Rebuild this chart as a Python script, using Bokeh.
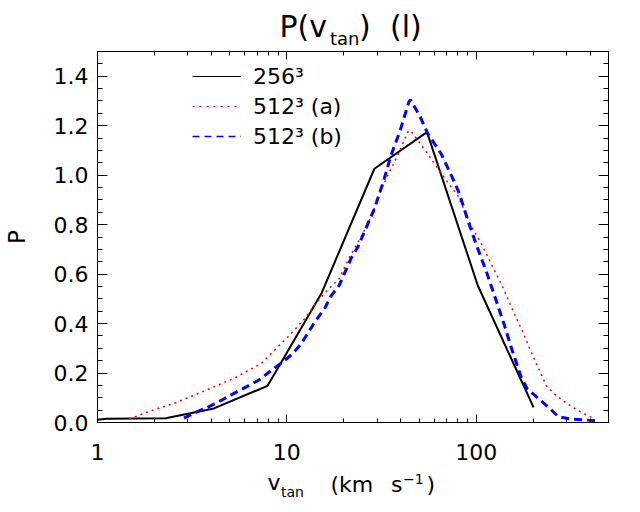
import math
from bokeh.plotting import figure
from bokeh.layouts import column
from bokeh.models import (Range1d, LogAxis, LinearAxis, LogTicker, SingleIntervalTicker,
                          PrintfTickFormatter, CustomJSTickFormatter, Legend, LegendItem)
from bokeh.core.properties import value
from bokeh.embed import file_html
from bokeh.resources import INLINE

# ---------------- data ----------------
v_256 = [1.0, 1.12, 2.29, 4.12, 7.9, 15.3, 29.0, 55.0, 102.0, 201.0]
p_256 = [0.011, 0.015, 0.017, 0.057, 0.148, 0.525, 1.026, 1.174, 0.554, 0.061]

v_512a = [1.47, 1.92, 2.53, 3.31, 4.3, 5.26, 7.28, 8.92, 9.9, 11.1, 12.6, 13.9, 16.0, 18.9,
          21.1, 24.6, 27.8, 31.4, 34.8, 38.5, 43.5, 45.0, 52.2, 60.2, 73.7, 80.0, 93.3,
          107.6, 122.5, 138.4, 156.2, 176.5, 195.4, 216.2, 234.6, 259.5, 287.6, 325.0,
          359.5, 405.8]
p_512a = [0.014, 0.048, 0.077, 0.113, 0.150, 0.179, 0.237, 0.304, 0.338, 0.378, 0.425,
          0.472, 0.527, 0.581, 0.659, 0.749, 0.830, 0.939, 1.013, 1.080, 1.174, 1.181,
          1.114, 1.047, 0.952, 0.918, 0.801, 0.716, 0.628, 0.547, 0.453, 0.365, 0.284,
          0.210, 0.149, 0.115, 0.088, 0.061, 0.041, 0.021]

v_512b = [2.86, 3.37, 3.88, 4.57, 5.26, 6.14, 7.13, 8.16, 9.29, 10.7, 11.9, 13.0, 14.2,
          15.8, 17.1, 18.9, 21.8, 23.7, 29.0, 32.5, 35.5, 39.8, 44.1, 45.0, 50.7, 55.5,
          65.3, 75.3, 81.6, 90.4, 100.0, 113.0, 126.1, 140.2, 155.0, 173.0, 186.2, 212.0,
          241.5, 272.5, 318.0, 378.0, 436.5]
p_512b = [0.018, 0.044, 0.064, 0.092, 0.118, 0.145, 0.172, 0.207, 0.239, 0.277, 0.318,
          0.365, 0.412, 0.459, 0.511, 0.554, 0.662, 0.709, 0.864, 0.979, 1.080, 1.184,
          1.296, 1.305, 1.235, 1.168, 1.087, 0.986, 0.925, 0.817, 0.720, 0.612, 0.504,
          0.399, 0.291, 0.183, 0.136, 0.099, 0.061, 0.023, 0.014, 0.010, 0.007]

legend_labels = ["256³", "512³ (a)", "512³ (b)"]
title_parts = ["P(v", "tan", ")", "(l)"]
xlabel_parts = ["v", "tan", "(km", "s", "−1", ")"]
ylabel = "P"

FONT = "DejaVu Sans"
W = 624
FL, FR = 97, 608          # frame left / right on the page
TOP_H = 48
BOT_H = 36


def strip(h):
    f = figure(width=W, height=h, x_range=Range1d(FL, FR), y_range=Range1d(h, 0),
               output_backend="svg", toolbar_location=None,
               x_axis_location=None, y_axis_location=None,
               min_border_left=FL, min_border_right=W - FR,
               min_border_top=0, min_border_bottom=0)
    f.outline_line_color = None
    f.xgrid.visible = False
    f.ygrid.visible = False
    f.background_fill_color = "white"
    f.border_fill_color = "white"
    return f


def txt(f, s, x, y, size):
    # y is the wanted baseline (page pixels); bokeh's alphabetic anchor sits ~0.3em lower
    f.text(x=[x], y=[y - 0.3 * size], text=[s], text_font=value(FONT),
           text_font_size=value(f"{size}px"),
           text_color="black", text_baseline="alphabetic", text_align="left")


# ---------- title strip:  P(v_tan)  (l)
top_fig = strip(TOP_H)
txt(top_fig, title_parts[0], 279, 35, 30)
txt(top_fig, title_parts[1], 329.5, 43, 18)
txt(top_fig, title_parts[2], 358.5, 35, 30)
txt(top_fig, title_parts[3], 389.5, 35, 30)

# ---------- main plot
p = figure(width=W, height=3 + 371 + 46, x_axis_type="log",
           x_range=Range1d(1, 500), y_range=Range1d(0, 1.5),
           output_backend="svg", toolbar_location=None,
           min_border_left=FL, min_border_right=W - FR, min_border_top=3, min_border_bottom=46)
p.xgrid.visible = False
p.ygrid.visible = False
p.outline_line_color = "black"
p.background_fill_color = "white"
p.border_fill_color = "white"

xt = LogTicker(num_minor_ticks=10)
yt = SingleIntervalTicker(interval=0.2, num_minor_ticks=4)


def style(ax, is_x, show):
    ax.ticker = xt if is_x else yt
    ax.axis_line_color = "black"
    ax.axis_line_width = 1
    ax.major_tick_line_color = "black"
    ax.minor_tick_line_color = "black"
    ax.major_tick_out = 0
    ax.minor_tick_out = 0
    ax.major_tick_in = 8 if is_x else 10
    ax.minor_tick_in = 4 if is_x else 5
    if show:
        ax.formatter = PrintfTickFormatter(format="%d" if is_x else "%.1f")
        ax.major_label_text_font = FONT
        ax.major_label_text_font_size = "22px"
        ax.major_label_text_color = "black"
        ax.major_label_standoff = 21 if is_x else 9
    else:
        ax.formatter = CustomJSTickFormatter(code="return ''")
        ax.major_label_text_font_size = "0px"
        ax.major_label_standoff = 0


style(p.xaxis[0], True, True)
style(p.yaxis[0], False, True)
p.yaxis[0].axis_label = ylabel
p.yaxis[0].axis_label_text_font = FONT
p.yaxis[0].axis_label_text_font_size = "23px"
p.yaxis[0].axis_label_text_font_style = "normal"
p.yaxis[0].axis_label_text_color = "black"
p.yaxis[0].axis_label_standoff = 21

top = LogAxis()
style(top, True, False)
p.add_layout(top, "above")
right = LinearAxis()
style(right, False, False)
p.add_layout(right, "right")

# data lines
p.line(v_256, p_256, line_color="black", line_width=2)
p.line(v_512a, p_512a, line_color="#ff0000", line_width=1.5, line_dash="2 4")
p.line(v_512b, p_512b, line_color="#0000ff", line_width=3, line_dash="8 5")

# legend (thinner strokes, like the reference legend)
nan = [float("nan")]
l1 = p.line(nan, nan, line_color="black", line_width=1)
l2 = p.line(nan, nan, line_color="#ff0000", line_width=1.2, line_dash="2 5")
l3 = p.line(nan, nan, line_color="#0000ff", line_width=1.5, line_dash="7 5")
leg = Legend(items=[LegendItem(label=legend_labels[0], renderers=[l1]),
                    LegendItem(label=legend_labels[1], renderers=[l2]),
                    LegendItem(label=legend_labels[2], renderers=[l3])],
             location=(95, 271), orientation="vertical",
             glyph_width=49, glyph_height=30, label_height=30, spacing=0,
             label_standoff=12, padding=0, margin=0,
             border_line_color=None, background_fill_alpha=0,
             label_text_font=FONT, label_text_font_size="22px", label_text_color="black")
p.add_layout(leg, "center")

# ---------- x label strip:  v_tan  (km s^-1)
bot_fig = strip(BOT_H)
Y0 = 468
txt(bot_fig, xlabel_parts[0], 267, 489 - Y0, 22)
txt(bot_fig, xlabel_parts[1], 280.5, 496 - Y0, 14)
txt(bot_fig, xlabel_parts[2], 330, 491 - Y0, 22)
txt(bot_fig, xlabel_parts[3], 390.5, 491 - Y0, 22)
txt(bot_fig, xlabel_parts[4], 402.5, 483 - Y0, 14)
txt(bot_fig, xlabel_parts[5], 426, 491 - Y0, 22)

layout = column(top_fig, p, bot_fig, spacing=0)
open("out.html", "w").write(file_html(layout, INLINE))
